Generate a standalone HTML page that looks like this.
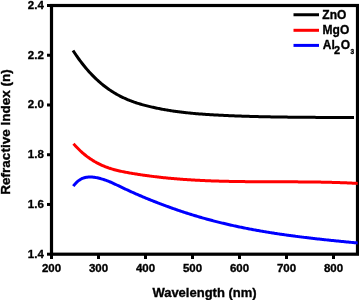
<!DOCTYPE html>
<html><head><meta charset="utf-8"><style>
html,body{margin:0;padding:0;background:#fff;width:359px;height:300px;overflow:hidden}
svg{display:block;will-change:transform}
text{font-family:"Liberation Sans", sans-serif;font-weight:bold;fill:#000;stroke:#000;stroke-width:0.35px}
</style></head><body>
<svg width="359" height="300" viewBox="0 0 359 300">
<rect x="51.5" y="5.5" width="306" height="248.7" fill="none" stroke="#000" stroke-width="3.2"/>
<g fill="none" stroke-width="3.0" stroke-linecap="butt" stroke-linejoin="round">
<path d="M73.00,50.51 L74.00,52.04 L75.00,53.54 L76.00,55.01 L77.00,56.45 L78.00,57.86 L79.00,59.25 L80.00,60.61 L81.00,61.94 L82.00,63.24 L83.00,64.52 L84.00,65.77 L85.00,66.99 L86.00,68.19 L87.00,69.36 L88.00,70.51 L89.00,71.63 L90.00,72.73 L91.00,73.81 L92.00,74.86 L93.00,75.89 L94.00,76.89 L95.00,77.87 L96.00,78.83 L97.00,79.77 L98.00,80.69 L99.00,81.58 L100.00,82.46 L101.00,83.31 L102.00,84.15 L103.00,84.96 L104.00,85.75 L105.00,86.53 L106.00,87.28 L107.00,88.02 L108.00,88.74 L109.00,89.44 L110.00,90.12 L111.00,90.79 L112.00,91.44 L113.00,92.07 L114.00,92.69 L115.00,93.29 L116.00,93.87 L117.00,94.44 L118.00,94.99 L119.00,95.53 L120.00,96.05 L121.00,96.56 L122.00,97.06 L123.00,97.54 L124.00,98.01 L125.00,98.47 L126.00,98.91 L127.00,99.34 L128.00,99.76 L129.00,100.17 L130.00,100.57 L131.00,100.95 L132.00,101.33 L133.00,101.69 L134.00,102.05 L135.00,102.39 L136.00,102.73 L137.00,103.06 L138.00,103.37 L139.00,103.68 L140.00,103.99 L141.00,104.28 L142.00,104.57 L143.00,104.85 L144.00,105.12 L145.00,105.39 L146.00,105.65 L147.00,105.90 L148.00,106.15 L149.00,106.40 L150.00,106.64 L151.00,106.87 L152.00,107.10 L153.00,107.33 L154.00,107.55 L155.00,107.77 L156.00,107.98 L157.00,108.19 L158.00,108.39 L159.00,108.59 L160.00,108.79 L161.00,108.98 L162.00,109.17 L163.00,109.36 L164.00,109.54 L165.00,109.72 L166.00,109.89 L167.00,110.06 L168.00,110.23 L169.00,110.39 L170.00,110.55 L171.00,110.70 L172.00,110.86 L173.00,111.01 L174.00,111.15 L175.00,111.29 L176.00,111.43 L177.00,111.57 L178.00,111.70 L179.00,111.83 L180.00,111.96 L181.00,112.08 L182.00,112.21 L183.00,112.32 L184.00,112.44 L185.00,112.55 L186.00,112.66 L187.00,112.77 L188.00,112.88 L189.00,112.98 L190.00,113.08 L191.00,113.18 L192.00,113.27 L193.00,113.37 L194.00,113.46 L195.00,113.55 L196.00,113.63 L197.00,113.72 L198.00,113.80 L199.00,113.88 L200.00,113.96 L201.00,114.04 L202.00,114.11 L203.00,114.19 L204.00,114.26 L205.00,114.33 L206.00,114.39 L207.00,114.46 L208.00,114.53 L209.00,114.59 L210.00,114.65 L211.00,114.71 L212.00,114.77 L213.00,114.83 L214.00,114.89 L215.00,114.94 L216.00,115.00 L217.00,115.05 L218.00,115.11 L219.00,115.16 L220.00,115.21 L221.00,115.26 L222.00,115.31 L223.00,115.36 L224.00,115.41 L225.00,115.45 L226.00,115.50 L227.00,115.54 L228.00,115.59 L229.00,115.63 L230.00,115.68 L231.00,115.72 L232.00,115.76 L233.00,115.80 L234.00,115.84 L235.00,115.88 L236.00,115.92 L237.00,115.96 L238.00,115.99 L239.00,116.03 L240.00,116.07 L241.00,116.10 L242.00,116.14 L243.00,116.17 L244.00,116.20 L245.00,116.24 L246.00,116.27 L247.00,116.30 L248.00,116.33 L249.00,116.36 L250.00,116.39 L251.00,116.42 L252.00,116.45 L253.00,116.48 L254.00,116.50 L255.00,116.53 L256.00,116.56 L257.00,116.58 L258.00,116.61 L259.00,116.63 L260.00,116.65 L261.00,116.68 L262.00,116.70 L263.00,116.72 L264.00,116.74 L265.00,116.77 L266.00,116.79 L267.00,116.81 L268.00,116.83 L269.00,116.85 L270.00,116.86 L271.00,116.88 L272.00,116.90 L273.00,116.92 L274.00,116.94 L275.00,116.95 L276.00,116.97 L277.00,116.99 L278.00,117.00 L279.00,117.02 L280.00,117.03 L281.00,117.05 L282.00,117.06 L283.00,117.07 L284.00,117.09 L285.00,117.10 L286.00,117.11 L287.00,117.12 L288.00,117.14 L289.00,117.15 L290.00,117.16 L291.00,117.17 L292.00,117.18 L293.00,117.19 L294.00,117.20 L295.00,117.21 L296.00,117.22 L297.00,117.23 L298.00,117.24 L299.00,117.25 L300.00,117.26 L301.00,117.27 L302.00,117.28 L303.00,117.28 L304.00,117.29 L305.00,117.30 L306.00,117.31 L307.00,117.32 L308.00,117.32 L309.00,117.33 L310.00,117.34 L311.00,117.34 L312.00,117.35 L313.00,117.36 L314.00,117.36 L315.00,117.37 L316.00,117.38 L317.00,117.38 L318.00,117.39 L319.00,117.39 L320.00,117.40 L321.00,117.41 L322.00,117.41 L323.00,117.42 L324.00,117.42 L325.00,117.43 L326.00,117.43 L327.00,117.44 L328.00,117.45 L329.00,117.45 L330.00,117.46 L331.00,117.46 L332.00,117.47 L333.00,117.47 L334.00,117.48 L335.00,117.48 L336.00,117.49 L337.00,117.50 L338.00,117.50 L339.00,117.51 L340.00,117.51 L341.00,117.52 L342.00,117.53 L343.00,117.53 L344.00,117.54 L345.00,117.55 L346.00,117.55 L347.00,117.56 L348.00,117.57 L349.00,117.57 L350.00,117.58 L351.00,117.59 L352.00,117.60 L353.00,117.60 L354.00,117.61" stroke="#000"/>
<path d="M73.50,143.74 L74.50,144.87 L75.50,145.96 L76.50,147.02 L77.50,148.06 L78.50,149.06 L79.50,150.03 L80.50,150.98 L81.50,151.89 L82.50,152.78 L83.50,153.64 L84.50,154.48 L85.50,155.29 L86.50,156.07 L87.50,156.83 L88.50,157.56 L89.50,158.27 L90.50,158.96 L91.50,159.62 L92.50,160.26 L93.50,160.88 L94.50,161.48 L95.50,162.05 L96.50,162.61 L97.50,163.14 L98.50,163.66 L99.50,164.16 L100.50,164.64 L101.50,165.10 L102.50,165.54 L103.50,165.97 L104.50,166.38 L105.50,166.78 L106.50,167.16 L107.50,167.52 L108.50,167.88 L109.50,168.21 L110.50,168.54 L111.50,168.85 L112.50,169.15 L113.50,169.44 L114.50,169.72 L115.50,169.99 L116.50,170.24 L117.50,170.49 L118.50,170.73 L119.50,170.96 L120.50,171.19 L121.50,171.40 L122.50,171.61 L123.50,171.82 L124.50,172.01 L125.50,172.21 L126.50,172.39 L127.50,172.58 L128.50,172.76 L129.50,172.93 L130.50,173.11 L131.50,173.28 L132.50,173.45 L133.50,173.61 L134.50,173.78 L135.50,173.94 L136.50,174.10 L137.50,174.26 L138.50,174.41 L139.50,174.57 L140.50,174.72 L141.50,174.87 L142.50,175.02 L143.50,175.16 L144.50,175.30 L145.50,175.44 L146.50,175.58 L147.50,175.72 L148.50,175.85 L149.50,175.99 L150.50,176.12 L151.50,176.25 L152.50,176.37 L153.50,176.50 L154.50,176.62 L155.50,176.74 L156.50,176.86 L157.50,176.97 L158.50,177.09 L159.50,177.20 L160.50,177.31 L161.50,177.42 L162.50,177.53 L163.50,177.64 L164.50,177.74 L165.50,177.84 L166.50,177.94 L167.50,178.04 L168.50,178.14 L169.50,178.23 L170.50,178.33 L171.50,178.42 L172.50,178.51 L173.50,178.60 L174.50,178.68 L175.50,178.77 L176.50,178.85 L177.50,178.93 L178.50,179.01 L179.50,179.09 L180.50,179.17 L181.50,179.24 L182.50,179.32 L183.50,179.39 L184.50,179.46 L185.50,179.53 L186.50,179.60 L187.50,179.67 L188.50,179.73 L189.50,179.80 L190.50,179.86 L191.50,179.92 L192.50,179.98 L193.50,180.04 L194.50,180.10 L195.50,180.15 L196.50,180.21 L197.50,180.26 L198.50,180.31 L199.50,180.36 L200.50,180.41 L201.50,180.46 L202.50,180.51 L203.50,180.55 L204.50,180.60 L205.50,180.64 L206.50,180.69 L207.50,180.73 L208.50,180.77 L209.50,180.81 L210.50,180.84 L211.50,180.88 L212.50,180.92 L213.50,180.95 L214.50,180.99 L215.50,181.02 L216.50,181.05 L217.50,181.08 L218.50,181.11 L219.50,181.14 L220.50,181.17 L221.50,181.20 L222.50,181.23 L223.50,181.25 L224.50,181.28 L225.50,181.30 L226.50,181.32 L227.50,181.35 L228.50,181.37 L229.50,181.39 L230.50,181.41 L231.50,181.43 L232.50,181.45 L233.50,181.46 L234.50,181.48 L235.50,181.50 L236.50,181.51 L237.50,181.53 L238.50,181.54 L239.50,181.56 L240.50,181.57 L241.50,181.58 L242.50,181.60 L243.50,181.61 L244.50,181.62 L245.50,181.63 L246.50,181.64 L247.50,181.65 L248.50,181.66 L249.50,181.67 L250.50,181.68 L251.50,181.68 L252.50,181.69 L253.50,181.70 L254.50,181.71 L255.50,181.71 L256.50,181.72 L257.50,181.72 L258.50,181.73 L259.50,181.74 L260.50,181.74 L261.50,181.74 L262.50,181.75 L263.50,181.75 L264.50,181.76 L265.50,181.76 L266.50,181.76 L267.50,181.77 L268.50,181.77 L269.50,181.77 L270.50,181.78 L271.50,181.78 L272.50,181.78 L273.50,181.79 L274.50,181.79 L275.50,181.79 L276.50,181.79 L277.50,181.80 L278.50,181.80 L279.50,181.80 L280.50,181.80 L281.50,181.81 L282.50,181.81 L283.50,181.81 L284.50,181.82 L285.50,181.82 L286.50,181.82 L287.50,181.83 L288.50,181.83 L289.50,181.83 L290.50,181.84 L291.50,181.84 L292.50,181.84 L293.50,181.85 L294.50,181.85 L295.50,181.86 L296.50,181.86 L297.50,181.87 L298.50,181.88 L299.50,181.88 L300.50,181.89 L301.50,181.90 L302.50,181.90 L303.50,181.91 L304.50,181.92 L305.50,181.93 L306.50,181.94 L307.50,181.95 L308.50,181.96 L309.50,181.97 L310.50,181.98 L311.50,181.99 L312.50,182.00 L313.50,182.02 L314.50,182.03 L315.50,182.04 L316.50,182.06 L317.50,182.07 L318.50,182.09 L319.50,182.11 L320.50,182.12 L321.50,182.14 L322.50,182.16 L323.50,182.18 L324.50,182.20 L325.50,182.22 L326.50,182.24 L327.50,182.26 L328.50,182.29 L329.50,182.31 L330.50,182.34 L331.50,182.36 L332.50,182.39 L333.50,182.42 L334.50,182.44 L335.50,182.47 L336.50,182.50 L337.50,182.54 L338.50,182.57 L339.50,182.60 L340.50,182.63 L341.50,182.67 L342.50,182.71 L343.50,182.74 L344.50,182.78 L345.50,182.82 L346.50,182.86 L347.50,182.90 L348.50,182.94 L349.50,182.99 L350.50,183.03 L351.50,183.08 L352.50,183.13 L353.50,183.17 L354.50,183.22 L355.50,183.27 L356.50,183.33 L357.50,183.38 L357.70,183.39" stroke="#ff0000"/>
<path d="M73.30,186.21 L74.30,184.90 L75.30,183.73 L76.30,182.67 L77.30,181.72 L78.30,180.88 L79.30,180.14 L80.30,179.50 L81.30,178.95 L82.30,178.48 L83.30,178.08 L84.30,177.76 L85.30,177.50 L86.30,177.30 L87.30,177.16 L88.30,177.06 L89.30,177.01 L90.30,176.99 L91.30,177.01 L92.30,177.07 L93.30,177.16 L94.30,177.29 L95.30,177.44 L96.30,177.62 L97.30,177.82 L98.30,178.05 L99.30,178.29 L100.30,178.55 L101.30,178.83 L102.30,179.13 L103.30,179.44 L104.30,179.76 L105.30,180.10 L106.30,180.45 L107.30,180.82 L108.30,181.20 L109.30,181.60 L110.30,182.01 L111.30,182.44 L112.30,182.88 L113.30,183.34 L114.30,183.80 L115.30,184.27 L116.30,184.75 L117.30,185.23 L118.30,185.71 L119.30,186.20 L120.30,186.68 L121.30,187.16 L122.30,187.64 L123.30,188.11 L124.30,188.58 L125.30,189.05 L126.30,189.51 L127.30,189.98 L128.30,190.44 L129.30,190.89 L130.30,191.35 L131.30,191.80 L132.30,192.25 L133.30,192.70 L134.30,193.14 L135.30,193.58 L136.30,194.02 L137.30,194.46 L138.30,194.89 L139.30,195.32 L140.30,195.75 L141.30,196.18 L142.30,196.60 L143.30,197.02 L144.30,197.44 L145.30,197.85 L146.30,198.27 L147.30,198.68 L148.30,199.09 L149.30,199.49 L150.30,199.90 L151.30,200.30 L152.30,200.70 L153.30,201.10 L154.30,201.49 L155.30,201.88 L156.30,202.27 L157.30,202.66 L158.30,203.05 L159.30,203.43 L160.30,203.81 L161.30,204.19 L162.30,204.57 L163.30,204.94 L164.30,205.32 L165.30,205.69 L166.30,206.05 L167.30,206.42 L168.30,206.78 L169.30,207.15 L170.30,207.50 L171.30,207.86 L172.30,208.22 L173.30,208.57 L174.30,208.92 L175.30,209.27 L176.30,209.61 L177.30,209.96 L178.30,210.30 L179.30,210.64 L180.30,210.97 L181.30,211.31 L182.30,211.64 L183.30,211.97 L184.30,212.30 L185.30,212.63 L186.30,212.95 L187.30,213.27 L188.30,213.59 L189.30,213.91 L190.30,214.22 L191.30,214.53 L192.30,214.84 L193.30,215.15 L194.30,215.46 L195.30,215.76 L196.30,216.06 L197.30,216.36 L198.30,216.66 L199.30,216.95 L200.30,217.24 L201.30,217.53 L202.30,217.82 L203.30,218.10 L204.30,218.39 L205.30,218.67 L206.30,218.94 L207.30,219.22 L208.30,219.49 L209.30,219.76 L210.30,220.03 L211.30,220.30 L212.30,220.56 L213.30,220.83 L214.30,221.09 L215.30,221.35 L216.30,221.60 L217.30,221.85 L218.30,222.11 L219.30,222.36 L220.30,222.60 L221.30,222.85 L222.30,223.09 L223.30,223.33 L224.30,223.57 L225.30,223.81 L226.30,224.04 L227.30,224.28 L228.30,224.51 L229.30,224.74 L230.30,224.97 L231.30,225.19 L232.30,225.41 L233.30,225.64 L234.30,225.86 L235.30,226.07 L236.30,226.29 L237.30,226.50 L238.30,226.72 L239.30,226.93 L240.30,227.13 L241.30,227.34 L242.30,227.55 L243.30,227.75 L244.30,227.95 L245.30,228.15 L246.30,228.35 L247.30,228.55 L248.30,228.74 L249.30,228.93 L250.30,229.12 L251.30,229.31 L252.30,229.50 L253.30,229.69 L254.30,229.87 L255.30,230.06 L256.30,230.24 L257.30,230.42 L258.30,230.60 L259.30,230.77 L260.30,230.95 L261.30,231.12 L262.30,231.29 L263.30,231.47 L264.30,231.63 L265.30,231.80 L266.30,231.97 L267.30,232.13 L268.30,232.30 L269.30,232.46 L270.30,232.62 L271.30,232.78 L272.30,232.94 L273.30,233.10 L274.30,233.25 L275.30,233.41 L276.30,233.56 L277.30,233.71 L278.30,233.86 L279.30,234.01 L280.30,234.16 L281.30,234.30 L282.30,234.45 L283.30,234.59 L284.30,234.74 L285.30,234.88 L286.30,235.02 L287.30,235.16 L288.30,235.30 L289.30,235.44 L290.30,235.57 L291.30,235.71 L292.30,235.84 L293.30,235.97 L294.30,236.11 L295.30,236.24 L296.30,236.37 L297.30,236.50 L298.30,236.62 L299.30,236.75 L300.30,236.88 L301.30,237.00 L302.30,237.13 L303.30,237.25 L304.30,237.37 L305.30,237.49 L306.30,237.61 L307.30,237.73 L308.30,237.85 L309.30,237.97 L310.30,238.09 L311.30,238.20 L312.30,238.32 L313.30,238.44 L314.30,238.55 L315.30,238.66 L316.30,238.78 L317.30,238.89 L318.30,239.00 L319.30,239.11 L320.30,239.22 L321.30,239.33 L322.30,239.44 L323.30,239.55 L324.30,239.65 L325.30,239.76 L326.30,239.87 L327.30,239.97 L328.30,240.08 L329.30,240.18 L330.30,240.29 L331.30,240.39 L332.30,240.49 L333.30,240.60 L334.30,240.70 L335.30,240.80 L336.30,240.90 L337.30,241.00 L338.30,241.10 L339.30,241.20 L340.30,241.30 L341.30,241.40 L342.30,241.50 L343.30,241.60 L344.30,241.70 L345.30,241.79 L346.30,241.89 L347.30,241.99 L348.30,242.08 L349.30,242.18 L350.30,242.28 L351.30,242.37 L352.30,242.47 L353.30,242.57 L354.30,242.66 L355.30,242.76 L356.30,242.85 L357.30,242.95 L357.70,242.99" stroke="#0000ff"/>
</g>
<g stroke="#000" stroke-width="3">
<line x1="47" y1="5.50" x2="52" y2="5.50"/><line x1="47" y1="55.24" x2="52" y2="55.24"/><line x1="47" y1="104.98" x2="52" y2="104.98"/><line x1="47" y1="154.72" x2="52" y2="154.72"/><line x1="47" y1="204.46" x2="52" y2="204.46"/><line x1="47" y1="254.20" x2="52" y2="254.20"/><line x1="51.50" y1="254" x2="51.50" y2="259"/><line x1="98.50" y1="254" x2="98.50" y2="259"/><line x1="145.50" y1="254" x2="145.50" y2="259"/><line x1="192.50" y1="254" x2="192.50" y2="259"/><line x1="239.50" y1="254" x2="239.50" y2="259"/><line x1="286.50" y1="254" x2="286.50" y2="259"/><line x1="333.50" y1="254" x2="333.50" y2="259"/>
</g>
<g font-size="11.5">
<text x="43.8" y="9.00" text-anchor="end">2.4</text><text x="43.8" y="58.74" text-anchor="end">2.2</text><text x="43.8" y="108.48" text-anchor="end">2.0</text><text x="43.8" y="158.22" text-anchor="end">1.8</text><text x="43.8" y="207.96" text-anchor="end">1.6</text><text x="43.8" y="257.70" text-anchor="end">1.4</text>
<text x="51.50" y="271.5" text-anchor="middle">200</text><text x="98.50" y="271.5" text-anchor="middle">300</text><text x="145.50" y="271.5" text-anchor="middle">400</text><text x="192.50" y="271.5" text-anchor="middle">500</text><text x="239.50" y="271.5" text-anchor="middle">600</text><text x="286.50" y="271.5" text-anchor="middle">700</text><text x="333.50" y="271.5" text-anchor="middle">800</text>
</g>
<text x="204.5" y="296.8" text-anchor="middle" font-size="13">Wavelength (nm)</text>
<text transform="translate(10,132) rotate(-90)" text-anchor="middle" font-size="13.5">Refractive Index (n)</text>
<g stroke-width="3">
<line x1="293.5" y1="14.75" x2="319" y2="14.75" stroke="#000"/>
<line x1="293.5" y1="30.3" x2="319" y2="30.3" stroke="#ff0000"/>
<line x1="293.5" y1="45.4" x2="319" y2="45.4" stroke="#0000ff"/>
</g>
<g font-size="12">
<text x="322.3" y="18.7">ZnO</text>
<text x="322.6" y="33.8">MgO</text>
<text x="322.8" y="49.2">Al<tspan font-size="11" dx="-0.8" dy="5">2</tspan><tspan dx="0.5" dy="-5">O</tspan><tspan font-size="6.5" dx="0.6" dy="5.2">3</tspan></text>
</g>
</svg>
</body></html>
